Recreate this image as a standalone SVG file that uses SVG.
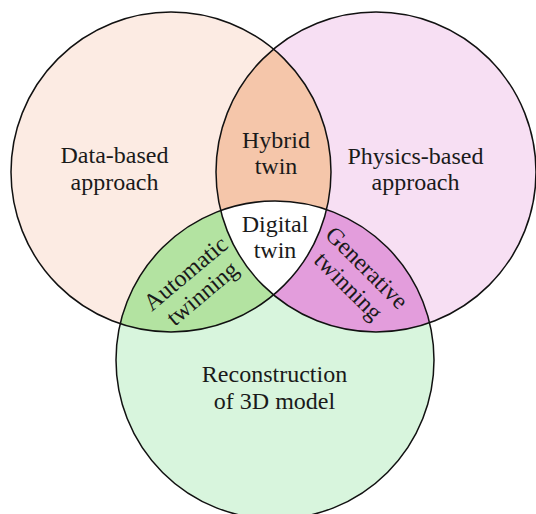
<svg xmlns="http://www.w3.org/2000/svg" width="536" height="514" viewBox="0 0 536 514">
<defs>
<style>
.lbl{font-family:"Liberation Serif","Times New Roman",serif;font-size:24px;fill:#1a1a1a;text-anchor:middle}
.edge{fill:none;stroke:#111;stroke-width:1.5}
</style>
<clipPath id="clipL"><circle cx="171" cy="172" r="160"/></clipPath>
<clipPath id="clipR"><circle cx="376" cy="172" r="160"/></clipPath>
</defs>
<rect width="536" height="514" fill="#fff"/>
<g id="data-based">
<circle cx="171" cy="172" r="160" fill="#fcebe3"/>
</g>
<g id="physics-based">
<circle cx="376" cy="172" r="160" fill="#f7dff3"/>
</g>
<g id="reconstruction">
<circle cx="275" cy="360" r="159" fill="#d8f5dd"/>
</g>
<g id="hybrid-twin">
<circle cx="376" cy="172" r="160" fill="#f5c6aa" clip-path="url(#clipL)"/>
</g>
<g id="automatic-twinning">
<circle cx="275" cy="360" r="159" fill="#b3e3a1" clip-path="url(#clipL)"/>
</g>
<g id="generative-twinning">
<circle cx="275" cy="360" r="159" fill="#e39ddc" clip-path="url(#clipR)"/>
</g>
<g id="digital-twin">
<g clip-path="url(#clipL)"><circle cx="275" cy="360" r="159" fill="#fff" clip-path="url(#clipR)"/></g>
</g>
<g id="outlines">
<circle class="edge" cx="171" cy="172" r="160"/>
<circle class="edge" cx="376" cy="172" r="160"/>
<circle class="edge" cx="275" cy="360" r="159"/>
</g>
<g id="labels">
<text class="lbl"><tspan x="114.5" y="163">Data-based</tspan><tspan x="114.5" y="190">approach</tspan></text>
<text class="lbl"><tspan x="415.5" y="164">Physics-based</tspan><tspan x="415.5" y="190">approach</tspan></text>
<text class="lbl"><tspan x="276" y="148">Hybrid</tspan><tspan x="276" y="174">twin</tspan></text>
<text class="lbl"><tspan x="275" y="232">Digital</tspan><tspan x="275" y="258">twin</tspan></text>
<text class="lbl"><tspan x="274.5" y="382">Reconstruction</tspan><tspan x="274.5" y="409">of 3D model</tspan></text>
<text class="lbl" transform="translate(194.5,284) rotate(-40)"><tspan x="0" y="-6">Automatic</tspan><tspan x="0" y="20">twinning</tspan></text>
<text class="lbl" transform="translate(357,277.5) rotate(45)"><tspan x="0" y="-6">Generative</tspan><tspan x="0" y="20">twinning</tspan></text>
</g>
</svg>
